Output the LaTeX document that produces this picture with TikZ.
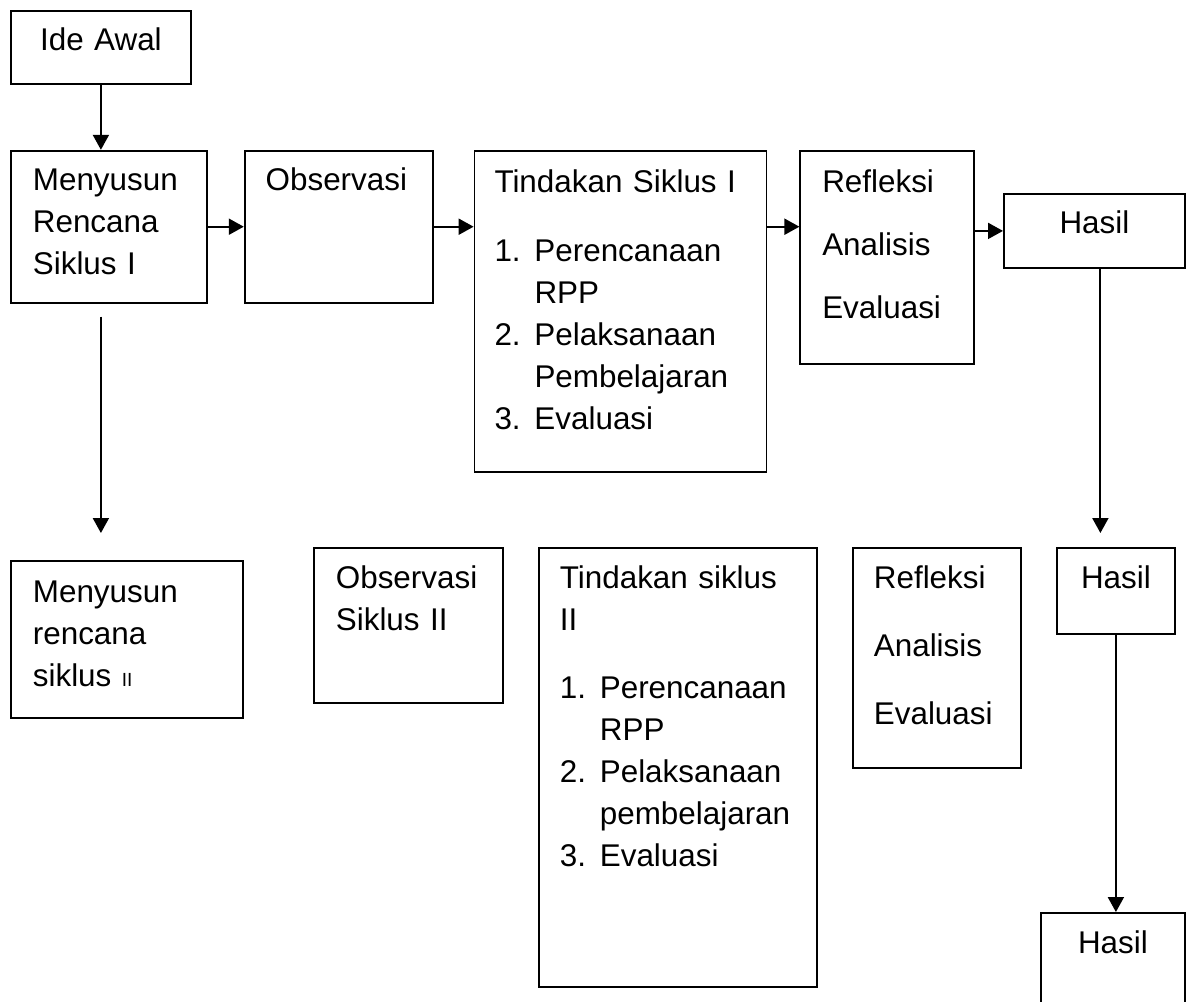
\documentclass[tikz,border=0pt]{standalone}
\usepackage{fontspec}
\setmainfont{Liberation Sans}
\usetikzlibrary{positioning,arrows.meta}

\newcommand{\itm}[2]{\makebox[20pt][l]{#1.}#2}
\newcommand{\cont}[1]{\hspace*{20pt}#1}

\begin{document}
\begin{tikzpicture}[
    x=0.5pt, y=-0.5pt,
    box/.style={draw, line width=0.9pt, anchor=north west, inner xsep=11pt, inner ysep=0pt, align=left, font=\fontsize{15.7pt}{21pt}\selectfont},
    arr/.style={-{Triangle[length=7.5pt,width=8pt]}, line width=1pt},
]
\useasboundingbox (0,0) rectangle (1190,1002);

% Siklus I
\node[box, inner xsep=0pt, text width=90pt, align=center, text height=20pt, text depth=16.5pt] (ide) at (10,10) {Ide Awal};
\node[box, below=32.5pt of ide.south west, anchor=north west, text width=76pt, text height=20pt, text depth=56pt] (syn1) {Menyusun\\Rencana\\Siklus I};
\node[box, right=18pt of syn1.north east, anchor=north west, inner xsep=10.5pt, text width=73pt, text height=20pt, text depth=56pt] (obs1) {Observasi};
\node[box, right=20pt of obs1.north east, anchor=north west, inner xsep=10pt, text width=126pt, text height=21pt, text depth=139.5pt] (tin1) {Tindakan Siklus I\\[13.5pt]
    \itm{1}{Perencanaan}\\ \cont{RPP}\\ \itm{2}{Pelaksanaan}\\ \cont{Pembelajaran}\\ \itm{3}{Evaluasi}};
\node[box, right=16pt of tin1.north east, anchor=north west, text width=65pt, text height=21pt, text depth=85.5pt] (ref1) {Refleksi\\[10.5pt]Analisis\\[10.5pt]Evaluasi};
\node[box, inner xsep=0pt, text width=90.5pt, align=center, text height=20pt, text depth=17pt] (has1) at (1003,193) {Hasil};

\draw[arr] (ide.south) -- (ide.south |- syn1.north);
\draw[arr] (syn1.east) -- (syn1.east -| obs1.west);
\draw[arr] (obs1.east) -- (obs1.east -| tin1.west);
\draw[arr] (tin1.east |- obs1.east) -- (ref1.west |- obs1.east);
\draw[arr] (ref1.east |- has1.west) -- (has1.west);

% Siklus II
\node[box, text width=94pt, text height=21pt, text depth=57.5pt] (syn2) at (10,560) {Menyusun\\rencana\\siklus {\fontsize{9.5pt}{21pt}\selectfont II}};
\node[box, text width=72.5pt, text height=20.5pt, text depth=57pt] (obs2) at (313,547) {Observasi\\Siklus II};
\node[box, inner xsep=10.5pt, text width=118pt, text height=20.5pt, text depth=199pt] (tin2) at (538,547) {Tindakan siklus\\II\\[13pt]
    \itm{1}{Perencanaan}\\ \cont{RPP}\\ \itm{2}{Pelaksanaan}\\ \cont{pembelajaran}\\ \itm{3}{Evaluasi}};
\node[box, inner xsep=10.5pt, text width=63pt, text height=20.5pt, text depth=89.5pt] (ref2) at (852,547) {Refleksi\\[13pt]Analisis\\[13pt]Evaluasi};
\node[box, inner xsep=0pt, text width=59pt, align=center, text height=20.5pt, text depth=22.5pt] (has2) at (1056,547) {Hasil};
\node[box, inner xsep=0pt, text width=72pt, align=center, text height=20.5pt, text depth=29.5pt] (has3) at (1040,912) {Hasil};

\draw[arr, shorten <=6.5pt, shorten >=13.5pt] (ide.south |- syn1.south) -- (ide.south |- syn2.north);
\draw[arr, shorten >=7pt] ([xshift=3pt]has1.south) -- ([xshift=3pt]has1.south |- has2.north);
\draw[arr] (has2.south) -- (has2.south |- has3.north);
\end{tikzpicture}
\end{document}
